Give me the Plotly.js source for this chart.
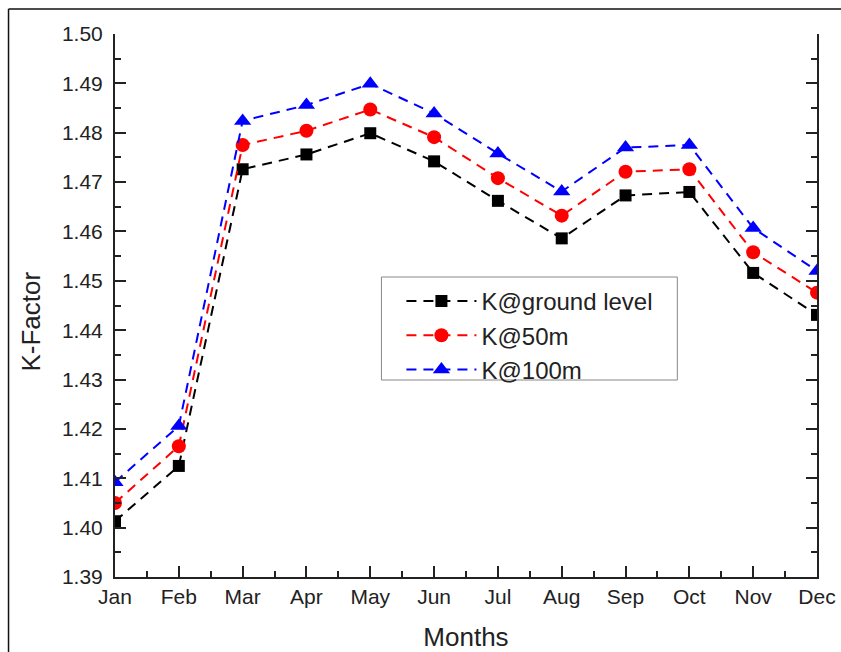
<!DOCTYPE html>
<html>
<head>
<meta charset="utf-8">
<script src="https://cdn.plot.ly/plotly-3.0.1.min.js"></script>
<style>
html,body{margin:0;padding:0;background:#fff;}
#chart{width:841px;height:652px;}
</style>
</head>
<body>
<div id="chart"></div>
<script>
const months = ["Jan","Feb","Mar","Apr","May","Jun","Jul","Aug","Sep","Oct","Nov","Dec"];
const monthIndex = [0,1,2,3,4,5,6,7,8,9,10,11];
const kGround = [1.4013,1.4125,1.4726,1.4756,1.4799,1.4742,1.4662,1.4586,1.4673,1.4680,1.4516,1.4431];
const k50m    = [1.4050,1.4165,1.4775,1.4804,1.4847,1.4791,1.4708,1.4632,1.4721,1.4726,1.4558,1.4476];
const k100m   = [1.4092,1.4206,1.4824,1.4856,1.4899,1.4839,1.4758,1.4681,1.4770,1.4775,1.4607,1.4520];
const seriesNames = ["K@ground level","K@50m","K@100m"];

const font = "Liberation Sans, Arial, sans-serif";
const dash = "10px,7px";

const traces = [
  {x: monthIndex, y: kGround, name: seriesNames[0], mode: "lines+markers",
   line: {color: "#000000", width: 2, dash: dash},
   marker: {symbol: "square", size: 12, color: "#000000"}},
  {x: monthIndex, y: k50m, name: seriesNames[1], mode: "lines+markers",
   line: {color: "#ff0000", width: 2, dash: dash},
   marker: {symbol: "circle", size: 14, color: "#ff0000"}},
  {x: monthIndex, y: k100m, name: seriesNames[2], mode: "lines+markers",
   line: {color: "#0000ff", width: 2, dash: dash},
   marker: {symbol: "triangle-up", size: 15, color: "#0000ff"}}
];

const L = 114.5, R = 816.7, T = 34, B = 577, W = 841, H = 652;
const pw = R - L, ph = B - T;
const px = v => (v - L) / pw;
const py = v => (B - v) / ph;

const layout = {
  width: W, height: H,
  margin: {l: L, r: W - R, t: T, b: H - B, pad: 0},
  paper_bgcolor: "#ffffff", plot_bgcolor: "#ffffff",
  font: {family: font, color: "#222222"},
  showlegend: true,
  legend: {
    x: px(401), y: py(279), xanchor: "left", yanchor: "top",
    bgcolor: "rgba(0,0,0,0)", bordercolor: "rgba(0,0,0,0)", borderwidth: 0,
    font: {family: font, size: 24, color: "#222222"},
    itemwidth: 70, tracegroupgap: 0
  },
  xaxis: {
    range: [0, 11], tickmode: "array", tickvals: monthIndex, ticktext: months,
    ticks: "inside", ticklen: 11, tickwidth: 2, tickcolor: "#222222",
    minor: {tickmode: "linear", tick0: 0, dtick: 0.5, ticks: "inside", ticklen: 6, tickwidth: 2, tickcolor: "#222222"},
    showline: true, linecolor: "#222222", linewidth: 2, mirror: false,
    showgrid: false, zeroline: false,
    tickfont: {family: font, size: 21, color: "#222222"},
    title: {text: "Months", font: {family: font, size: 26, color: "#222222"}, standoff: 23}
  },
  xaxis2: {
    overlaying: "x", side: "top", anchor: "y", range: [0, 5], dtick: 1, tick0: 0,
    ticks: "inside", ticklen: 11, tickwidth: 2, tickcolor: "#222222",
    minor: {dtick: 0.5, tick0: 0, ticks: "inside", ticklen: 6, tickwidth: 2, tickcolor: "#222222"},
    showticklabels: false, showline: true, linecolor: "#222222", linewidth: 2,
    showgrid: false, zeroline: false
  },
  yaxis: {
    range: [1.39, 1.50], dtick: 0.01, tick0: 1.39, tickformat: ".2f",
    ticks: "inside", ticklen: 11, tickwidth: 2, tickcolor: "#222222",
    minor: {dtick: 0.005, tick0: 1.39, ticks: "inside", ticklen: 6, tickwidth: 2, tickcolor: "#222222"},
    showline: true, linecolor: "#222222", linewidth: 2, mirror: "ticks",
    showgrid: false, zeroline: false, ticklabelstandoff: 6,
    tickfont: {family: font, size: 21, color: "#222222"}
  },
  annotations: [
    {text: "K-Factor", xref: "paper", yref: "paper", x: px(30), y: py(322),
     xanchor: "center", yanchor: "middle", textangle: -90, showarrow: false,
     font: {family: font, size: 26, color: "#222222"}}
  ],
  shapes: [
    {type: "line", xref: "paper", yref: "paper", x0: px(8), x1: px(845), y0: py(9), y1: py(9),
     line: {color: "#111111", width: 1.5}},
    {type: "line", xref: "paper", yref: "paper", x0: px(8), x1: px(8), y0: py(9), y1: py(660),
     line: {color: "#111111", width: 1.5}},
    {type: "rect", xref: "paper", yref: "paper", layer: "above",
     x0: px(381), x1: px(677), y0: py(380), y1: py(277),
     fillcolor: "#ffffff", line: {color: "#888888", width: 1}}
  ]
};

Plotly.newPlot("chart", traces, layout, {displayModeBar: false, staticPlot: true});
</script>
</body>
</html>
